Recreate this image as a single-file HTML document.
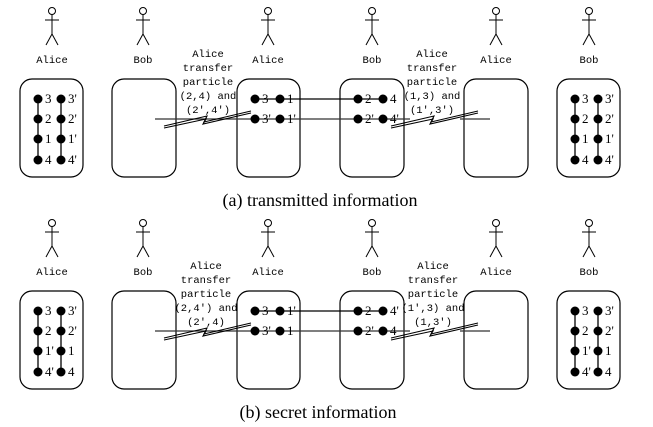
<!DOCTYPE html>
<html><head><meta charset="utf-8"><style>
html,body{margin:0;padding:0;background:#fff;}
svg{display:block;}
.m{font-family:"Liberation Mono",monospace;font-size:10.5px;fill:#000;text-anchor:middle;}
.n{font-family:"Liberation Serif",serif;font-size:13px;fill:#000;}
.c{font-family:"Liberation Serif",serif;font-size:18px;fill:#000;text-anchor:middle;}
</style></head><body>
<svg width="653" height="427" viewBox="0 0 653 427" xmlns="http://www.w3.org/2000/svg">
<defs>
<g id="fig" fill="none" stroke="#000" stroke-width="1">
<circle cx="0" cy="11" r="3.5"/><line x1="0" y1="14.5" x2="0" y2="34"/><line x1="-7" y1="20" x2="7" y2="20"/><line x1="0" y1="34" x2="-6" y2="45"/><line x1="0" y1="34" x2="6" y2="45"/>
</g>
<g id="boxes" fill="none" stroke="#000" stroke-width="1.2">
<rect x="20" y="79" width="63" height="98" rx="12"/>
<rect x="112" y="79" width="64" height="98" rx="12"/>
<rect x="237" y="79" width="63" height="98" rx="12"/>
<rect x="340" y="79" width="64" height="98" rx="12"/>
<rect x="464" y="79" width="64" height="98" rx="12"/>
<rect x="557" y="79" width="63" height="98" rx="12"/>
</g>
<g id="figs">
<use href="#fig" x="52"/><use href="#fig" x="143"/><use href="#fig" x="268"/><use href="#fig" x="372"/><use href="#fig" x="496"/><use href="#fig" x="589"/>
</g>
<g id="cols">
<line x1="38" y1="99" x2="38" y2="160" stroke="#000" stroke-width="1.3"/>
<line x1="61" y1="99" x2="61" y2="160" stroke="#000" stroke-width="1.3"/>
<g fill="#000"><circle cx="38" cy="99" r="4.5"/><circle cx="61" cy="99" r="4.5"/><circle cx="38" cy="119" r="4.5"/><circle cx="61" cy="119" r="4.5"/><circle cx="38" cy="139" r="4.5"/><circle cx="61" cy="139" r="4.5"/><circle cx="38" cy="160" r="4.5"/><circle cx="61" cy="160" r="4.5"/></g>
</g>
<g id="bolt" fill="none" stroke="#000" stroke-width="1.1">
<polyline points="0,15 43,5 40,11 87,0"/>
<polyline points="0,17 42,8 39,13 87,2"/>
</g>
<g id="mid">
<line x1="255" y1="99" x2="383" y2="99" stroke="#000" stroke-width="1.2"/>
<line x1="155" y1="119" x2="410" y2="119" stroke="#333" stroke-width="1.2"/>
<line x1="460" y1="119" x2="490" y2="119" stroke="#333" stroke-width="1.2"/>
<g fill="#000"><circle cx="255" cy="99" r="4.5"/><circle cx="280" cy="99" r="4.5"/><circle cx="255" cy="119" r="4.5"/><circle cx="280" cy="119" r="4.5"/><circle cx="358" cy="99" r="4.5"/><circle cx="383" cy="99" r="4.5"/><circle cx="358" cy="119" r="4.5"/><circle cx="383" cy="119" r="4.5"/></g>
<use href="#bolt" x="164" y="111"/>
<use href="#bolt" x="391" y="111"/>
</g>
</defs>

<!-- (a) -->
<use href="#figs"/><use href="#boxes"/><use href="#cols"/><use href="#cols" x="537"/><use href="#mid"/>
<g class="m"><text x="52" y="63">Alice</text><text x="143" y="63">Bob</text><text x="268" y="63">Alice</text><text x="372" y="63">Bob</text><text x="496" y="63">Alice</text><text x="589" y="63">Bob</text>
<text x="208" y="57">Alice</text><text x="208" y="71">transfer</text><text x="208" y="85">particle</text><text x="208" y="99">(2,4) and</text><text x="208" y="113">(2',4')</text>
<text x="432" y="57">Alice</text><text x="432" y="71">transfer</text><text x="432" y="85">particle</text><text x="432" y="99">(1,3) and</text><text x="432" y="113">(1',3')</text></g>
<g class="n">
<text x="45" y="103">3</text><text x="68" y="103">3'</text><text x="45" y="123">2</text><text x="68" y="123">2'</text><text x="45" y="143">1</text><text x="68" y="143">1'</text><text x="45" y="164">4</text><text x="68" y="164">4'</text>
<text x="582" y="103">3</text><text x="605" y="103">3'</text><text x="582" y="123">2</text><text x="605" y="123">2'</text><text x="582" y="143">1</text><text x="605" y="143">1'</text><text x="582" y="164">4</text><text x="605" y="164">4'</text>
<text x="262" y="103">3</text><text x="287" y="103">1</text><text x="262" y="123">3'</text><text x="287" y="123">1'</text>
<text x="365" y="103">2</text><text x="390" y="103">4</text><text x="365" y="123">2'</text><text x="390" y="123">4'</text>
</g>
<text class="c" x="320" y="206">(a) transmitted information</text>

<!-- (b) -->
<g transform="translate(0,212)">
<use href="#figs"/><use href="#boxes"/><use href="#cols"/><use href="#cols" x="537"/><use href="#mid"/>
<g class="m"><text x="52" y="63">Alice</text><text x="143" y="63">Bob</text><text x="268" y="63">Alice</text><text x="372" y="63">Bob</text><text x="496" y="63">Alice</text><text x="589" y="63">Bob</text>
<text x="206" y="57">Alice</text><text x="206" y="71">transfer</text><text x="206" y="85">particle</text><text x="206" y="99">(2,4') and</text><text x="206" y="113">(2',4)</text>
<text x="433" y="57">Alice</text><text x="433" y="71">transfer</text><text x="433" y="85">particle</text><text x="433" y="99">(1',3) and</text><text x="433" y="113">(1,3')</text></g>
<g class="n">
<text x="45" y="103">3</text><text x="68" y="103">3'</text><text x="45" y="123">2</text><text x="68" y="123">2'</text><text x="45" y="143">1'</text><text x="68" y="143">1</text><text x="45" y="164">4'</text><text x="68" y="164">4</text>
<text x="582" y="103">3</text><text x="605" y="103">3'</text><text x="582" y="123">2</text><text x="605" y="123">2'</text><text x="582" y="143">1'</text><text x="605" y="143">1</text><text x="582" y="164">4'</text><text x="605" y="164">4</text>
<text x="262" y="103">3</text><text x="287" y="103">1'</text><text x="262" y="123">3'</text><text x="287" y="123">1</text>
<text x="365" y="103">2</text><text x="390" y="103">4'</text><text x="365" y="123">2'</text><text x="390" y="123">4</text>
</g>
<text class="c" x="318" y="206">(b) secret information</text>
</g>
</svg>
</body></html>
